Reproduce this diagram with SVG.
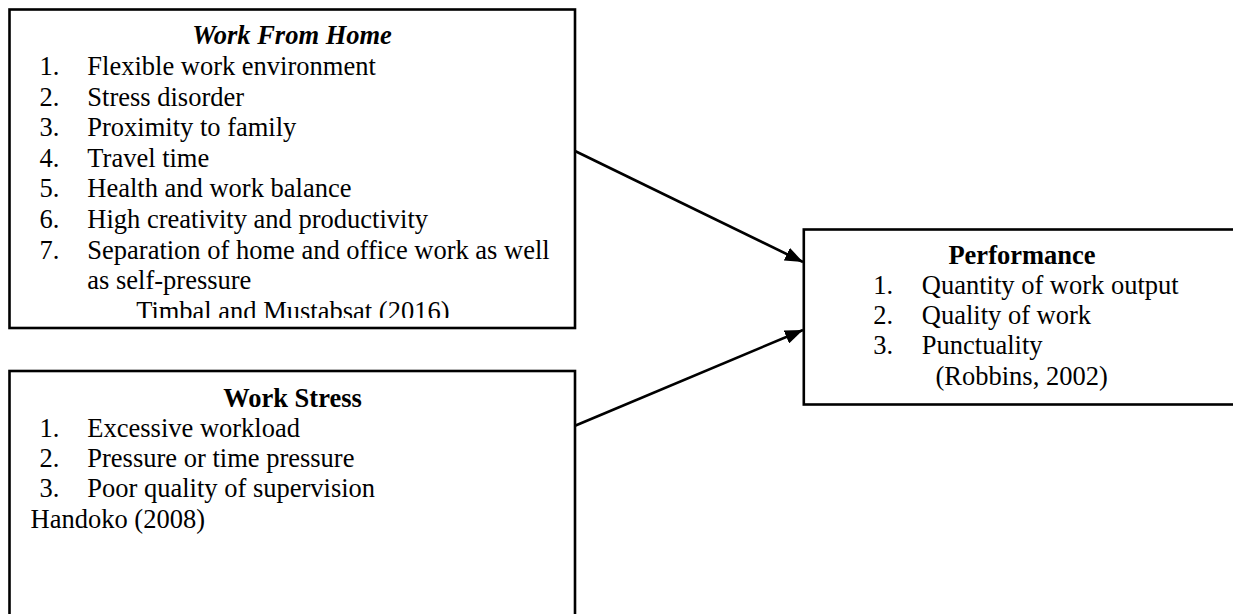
<svg xmlns="http://www.w3.org/2000/svg" width="1233" height="614" viewBox="0 0 1233 614">
<style>
.box{fill:#fff;stroke:#000;stroke-width:2.6}
text{font-family:"Liberation Serif","Times New Roman",serif;font-size:26.5px;fill:#000}
.title{font-weight:bold;text-anchor:middle}
.conn{stroke:#000;stroke-width:2.6;fill:none}
</style>
<defs>
<marker id="arrow" markerUnits="userSpaceOnUse" markerWidth="20" markerHeight="14" refX="18" refY="7" orient="auto">
<path d="M0,0 L18,7 L0,14 z" fill="#000"/>
</marker>
<clipPath id="clip1"><rect x="9" y="9" width="566" height="309"/></clipPath>
</defs>
<g id="node-wfh">
<rect class="box" x="9.5" y="9.5" width="565.5" height="318.5"/>
<g clip-path="url(#clip1)">
<text class="title" x="292" y="44.3" font-style="italic">Work From Home</text>
<text x="39.4" y="75">1.</text><text x="87.3" y="75">Flexible work environment</text>
<text x="39.4" y="105.6">2.</text><text x="87.3" y="105.6">Stress disorder</text>
<text x="39.4" y="136.2">3.</text><text x="87.3" y="136.2">Proximity to family</text>
<text x="39.4" y="166.8">4.</text><text x="87.3" y="166.8">Travel time</text>
<text x="39.4" y="197.4">5.</text><text x="87.3" y="197.4">Health and work balance</text>
<text x="39.4" y="228">6.</text><text x="87.3" y="228">High creativity and productivity</text>
<text x="39.4" y="258.6">7.</text><text x="87.3" y="258.6">Separation of home and office work as well</text>
<text x="87.3" y="289.2">as self-pressure</text>
<text x="292.8" y="319.8" text-anchor="middle">Timbal and Mustabsat (2016)</text>
</g>
</g>
<g id="node-stress">
<rect class="box" x="9.5" y="371" width="565.5" height="260"/>
<text class="title" x="292.5" y="407.3">Work Stress</text>
<text x="39.4" y="436.5">1.</text><text x="87.3" y="436.5">Excessive workload</text>
<text x="39.4" y="466.7">2.</text><text x="87.3" y="466.7">Pressure or time pressure</text>
<text x="39.4" y="496.9">3.</text><text x="87.3" y="496.9">Poor quality of supervision</text>
<text x="30.6" y="528.3">Handoko (2008)</text>
</g>
<g id="node-performance">
<rect class="box" x="803.8" y="229.5" width="460" height="175"/>
<text class="title" x="1022" y="264.3">Performance</text>
<text x="873.3" y="294.3">1.</text><text x="921.8" y="294.3">Quantity of work output</text>
<text x="873.3" y="324.3">2.</text><text x="921.8" y="324.3">Quality of work</text>
<text x="873.3" y="354.3">3.</text><text x="921.8" y="354.3">Punctuality</text>
<text x="935.5" y="385">(Robbins, 2002)</text>
</g>
<g id="connectors">
<line class="conn" x1="575" y1="151" x2="803" y2="262" marker-end="url(#arrow)"/>
<line class="conn" x1="575" y1="425.7" x2="803" y2="330" marker-end="url(#arrow)"/>
</g>
</svg>
